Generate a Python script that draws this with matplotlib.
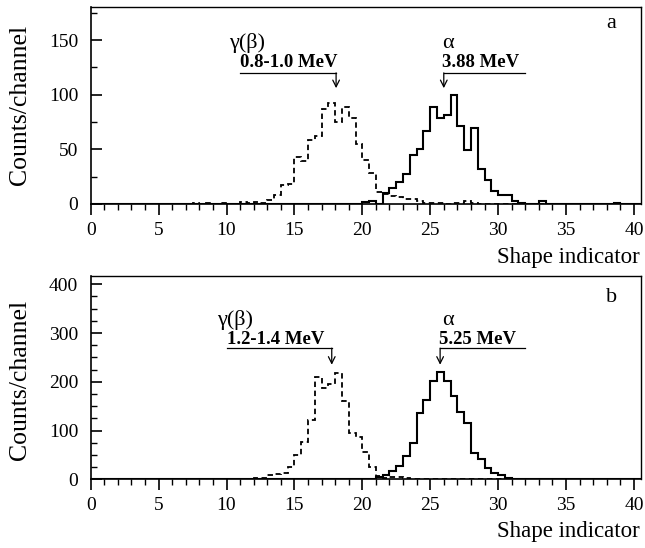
import numpy as np
import matplotlib
matplotlib.use("Agg")
import matplotlib.pyplot as plt
from matplotlib.ticker import MultipleLocator

plt.rcParams['font.family'] = ['Liberation Serif', 'DejaVu Serif']

# bin edges: 0..40.5 in steps of 0.5
edges = np.arange(0, 40.5001, 0.5)

def hist_from(d):
    v = np.zeros(len(edges) - 1)
    for x, c in d.items():
        v[int(round(x / 0.5))] = c
    return v

# Panel a: gamma(beta) 0.8-1.0 MeV (dashed), alpha 3.88 MeV (solid)
gamma_a = {7.5: 1, 8.5: 1, 9.5: 1, 11.0: 2, 11.5: 1, 12.0: 2, 12.5: 1, 13.0: 4,
           13.5: 8, 14.0: 17, 14.5: 18, 15.0: 43, 15.5: 39, 16.0: 59, 16.5: 62,
           17.0: 87, 17.5: 92, 18.0: 75, 18.5: 89, 19.0: 79, 19.5: 55, 20.0: 40,
           20.5: 28, 21.0: 11, 21.5: 9, 22.0: 7, 22.5: 6, 23.0: 5, 23.5: 5,
           24.0: 3, 24.5: 1, 25.0: 1, 25.5: 1, 26.5: 1, 27.0: 1, 27.5: 3, 28.0: 1}
alpha_a = {20.0: 2, 20.5: 3, 21.0: 0, 21.5: 10, 22.0: 15, 22.5: 20, 23.0: 27,
           23.5: 45, 24.0: 50, 24.5: 67, 25.0: 89, 25.5: 79, 26.0: 81, 26.5: 100,
           27.0: 71, 27.5: 49, 28.0: 70, 28.5: 32, 29.0: 22, 29.5: 12, 30.0: 8,
           30.5: 8, 31.0: 3, 31.5: 1, 33.0: 3, 38.5: 1}

# Panel b: gamma(beta) 1.2-1.4 MeV (dashed), alpha 5.25 MeV (solid)
gamma_b = {4.0: 1, 8.5: 1, 10.0: 1, 12.0: 2, 12.5: 2, 13.0: 9, 13.5: 10, 14.0: 12,
           14.5: 26, 15.0: 50, 15.5: 77, 16.0: 122, 16.5: 210, 17.0: 188,
           17.5: 195, 18.0: 218, 18.5: 161, 19.0: 95, 19.5: 86, 20.0: 55,
           20.5: 26, 21.0: 7, 21.5: 3, 22.0: 5, 22.5: 4, 23.0: 3, 24.5: 1}
alpha_b = {21.0: 4, 21.5: 9, 22.0: 16, 22.5: 27, 23.0: 47, 23.5: 75, 24.0: 137,
           24.5: 163, 25.0: 201, 25.5: 220, 26.0: 201, 26.5: 171, 27.0: 139,
           27.5: 115, 28.0: 53, 28.5: 41, 29.0: 23, 29.5: 13, 30.0: 8, 30.5: 2,
           31.0: 1, 34.0: 1, 38.5: 1}

x_ticks = [0, 5, 10, 15, 20, 25, 30, 35, 40]

fig = plt.figure(figsize=(6.45, 5.48), dpi=100)
W, H = 645, 548
def ax_rect(l, r, t, b):
    return [l / W, 1 - b / H, (r - l) / W, (b - t) / H]

ax_a = fig.add_axes(ax_rect(90.7, 640.7, 7.3, 204))
ax_b = fig.add_axes(ax_rect(90.7, 640.7, 276, 479.3))

panels = [
    (ax_a, hist_from(gamma_a), hist_from(alpha_a), 180, 50, 25,
     dict(g=(10.2, 147), gl=(11.0, 18.07, 120, 106), gt="0.8-1.0 MeV", gb=125.5,
          a=(25.9, 147), al=(26.0, 32.0, 120, 106), at="3.88 MeV"), 'a'),
    (ax_b, hist_from(gamma_b), hist_from(alpha_b), 417, 100, 25,
     dict(g=(9.3, 326), gl=(10.02, 17.75, 269, 235), gt="1.2-1.4 MeV", gb=277,
          a=(25.85, 326), al=(25.73, 32.0, 269, 235), at="5.25 MeV"), 'b'),
]

for ax, g, a, ymax, major, minor, lab, letter in panels:
    ax.stairs(g, edges, color='black', lw=1.3, linestyle=(0, (3.0, 2.0)))
    ax.stairs(a, edges, color='black', lw=1.5)
    ax.set_xlim(0, 40.5)
    ax.set_ylim(0, ymax)
    ax.set_xticks(x_ticks)
    ax.xaxis.set_minor_locator(MultipleLocator(1))
    ax.yaxis.set_major_locator(MultipleLocator(major))
    ax.yaxis.set_minor_locator(MultipleLocator(minor))
    ax.tick_params(axis='x', which='major', direction='out', length=8, width=1.2,
                   labelsize=14, pad=5)
    ax.tick_params(axis='x', which='minor', direction='out', length=4, width=1.0)
    ax.tick_params(axis='y', which='major', direction='in', length=8, width=1.2,
                   labelsize=14, pad=9)
    ax.tick_params(axis='y', which='minor', direction='in', length=4, width=1.0)
    for s in ax.spines.values():
        s.set_linewidth(1.2)
    ax.spines['top'].set_linewidth(1.0)
    ax.spines['right'].set_linewidth(1.0)

    gx, gy = lab['g']
    ax.text(gx, gy, "γ(β)", fontsize=16, ha='left', va='center')
    ax.text(lab['a'][0], lab['a'][1], "α", fontsize=16, ha='left', va='center')
    tb = lab['gb']
    # gamma label: text above line, arrow at right end
    x0, x1, yl, yt = lab['gl']
    ax.text(x0, tb, lab['gt'], fontsize=13.5, fontweight='bold',
            ha='left', va='baseline')
    ax.plot([x0, x1], [yl, yl], color='black', lw=0.9)
    ax.annotate('', xy=(x1, yt), xytext=(x1, yl),
                arrowprops=dict(arrowstyle='->', lw=0.9, color='black',
                                shrinkA=0, shrinkB=0, mutation_scale=12))
    # alpha label: arrow at left end
    x0, x1, yl, yt = lab['al']
    ax.text(x0 - 0.1, tb, lab['at'], fontsize=13.5, fontweight='bold',
            ha='left', va='baseline')
    ax.plot([x0, x1], [yl, yl], color='black', lw=0.9)
    ax.annotate('', xy=(x0, yt), xytext=(x0, yl),
                arrowprops=dict(arrowstyle='->', lw=0.9, color='black',
                                shrinkA=0, shrinkB=0, mutation_scale=12))

fig.text(606 / W, 1 - 24 / H, 'a', fontsize=16, ha='left', va='center')
fig.text(606 / W, 1 - 297 / H, 'b', fontsize=16, ha='left', va='center')
fig.text(640 / W, 1 - 258 / H, 'Shape indicator', fontsize=16.5, ha='right', va='center')
fig.text(640 / W, 1 - 532 / H, 'Shape indicator', fontsize=16.5, ha='right', va='center')
fig.text(20 / W, 1 - 105 / H, 'Counts/channel', fontsize=18.5, rotation=90,
         ha='center', va='center')
fig.text(20 / W, 1 - 380 / H, 'Counts/channel', fontsize=18.5, rotation=90,
         ha='center', va='center')

fig.savefig('out.png', dpi=100)
